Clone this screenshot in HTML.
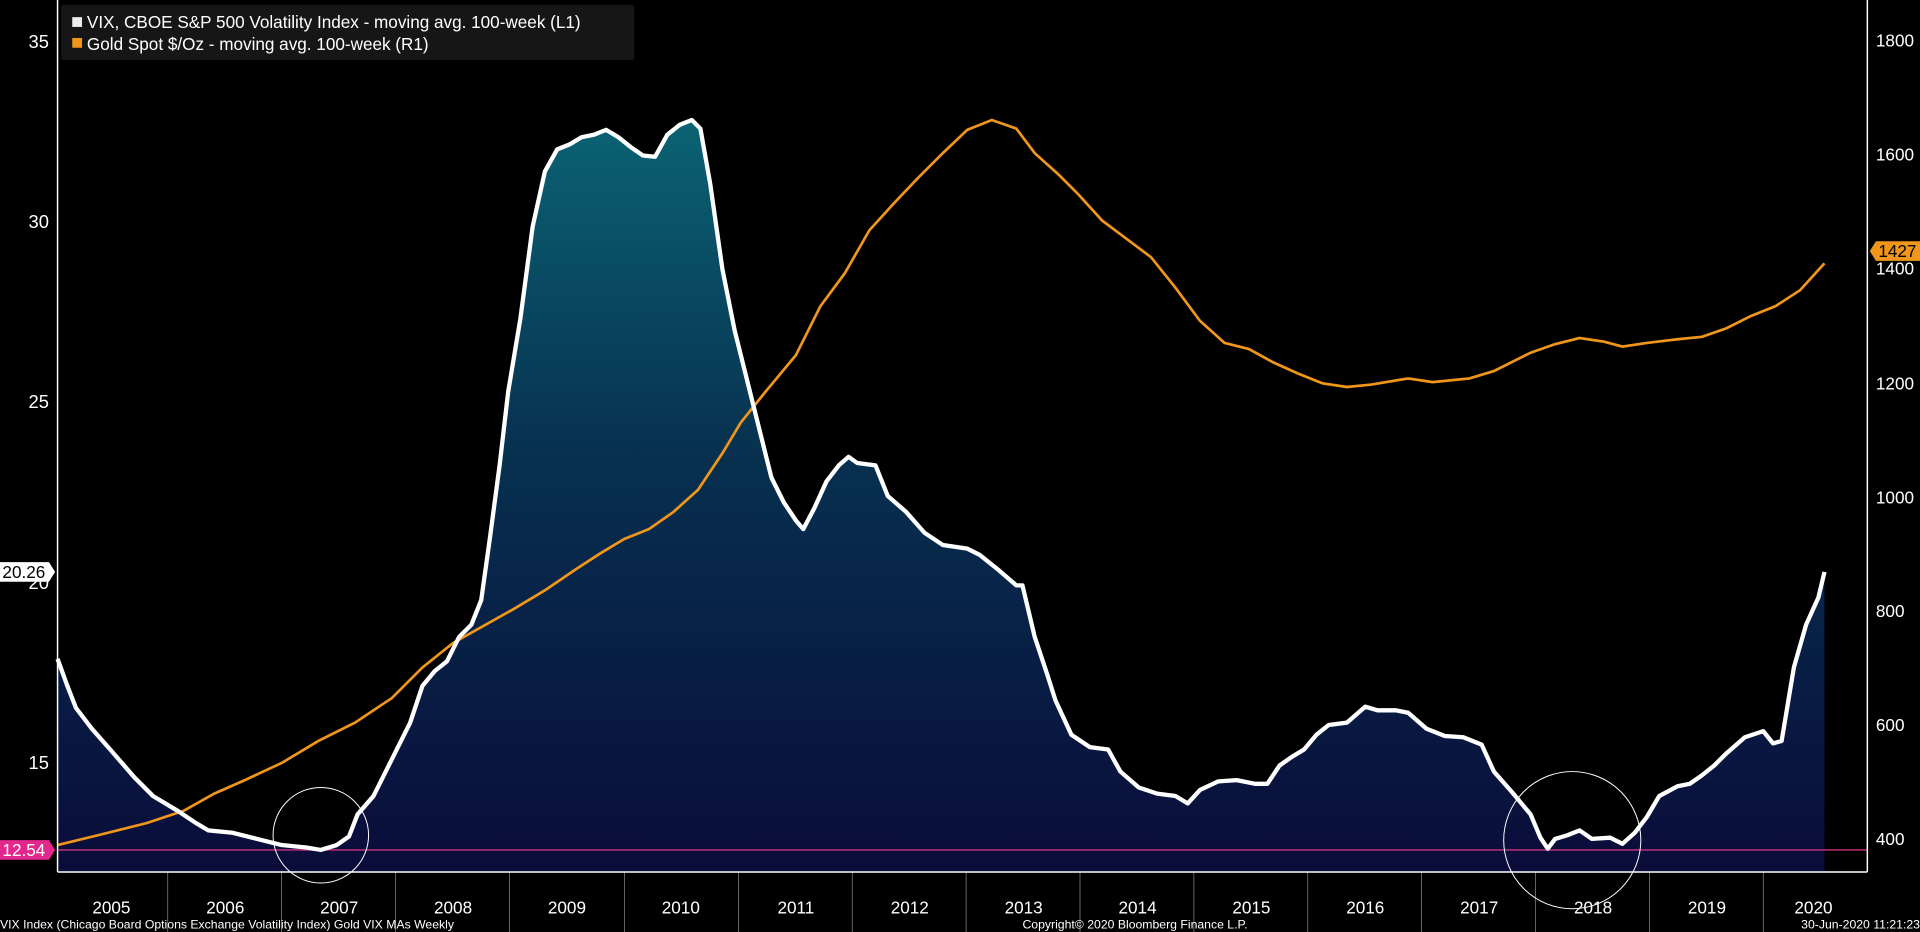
<!DOCTYPE html>
<html><head><meta charset="utf-8"><style>
html,body{margin:0;padding:0;background:#000;overflow:hidden}
svg{display:block}
text{font-family:"Liberation Sans",sans-serif;fill:#fff}
</style></head><body>
<svg width="1920" height="932" viewBox="0 0 1568 761" preserveAspectRatio="none" xmlns="http://www.w3.org/2000/svg">
<defs>
<linearGradient id="g" gradientUnits="userSpaceOnUse" x1="0" y1="95" x2="0" y2="712">
<stop offset="0" stop-color="#0b6373"/>
<stop offset="0.45" stop-color="#07304f"/>
<stop offset="1" stop-color="#0a0c3a"/>
</linearGradient>
</defs>
<rect width="1568" height="761" fill="#000"/>
<path fill="url(#g)" d="M47,712 L47,538 L55,560 L62,578 L75,595 L90,612 L110,635 L125,650 L145,662 L160,672 L170,678 L190,680 L210,685 L230,690 L250,692 L262,694 L275,690 L285,683 L292,665 L305,650 L320,620 L335,590 L345,560 L355,548 L365,540 L375,520 L385,510 L393,490 L400,440 L408,380 L415,320 L425,260 L435,185 L445,140 L455,122 L465,118 L475,112 L485,110 L495,106 L505,112 L515,120 L525,127 L535,128 L545,110 L555,102 L565,98 L572,105 L580,150 L590,220 L600,270 L610,310 L620,350 L630,390 L640,410 L650,425 L656,432 L665,415 L675,393 L685,380 L693,373 L700,378 L715,380 L725,405 L740,418 L755,435 L770,445 L790,448 L800,453 L815,465 L830,478 L835,478 L845,520 L855,550 L862,572 L875,600 L890,610 L905,612 L915,630 L930,643 L945,648 L960,650 L970,656 L980,645 L995,638 L1010,637 L1025,640 L1035,640 L1045,625 L1055,618 L1065,612 L1075,600 L1085,592 L1100,590 L1115,577 L1125,580 L1140,580 L1150,582 L1165,595 L1180,601 L1195,602 L1210,608 L1220,630 L1235,647 L1250,665 L1258,684 L1264,693 L1270,685 L1280,682 L1290,678 L1300,685 L1315,684 L1325,689 L1335,680 L1345,667 L1355,650 L1370,642 L1380,640 L1390,633 L1400,625 L1410,615 L1425,602 L1440,597 L1448,607 L1455,605 L1465,545 L1475,510 L1485,488 L1490,467 L1490,712 Z"/>
<g stroke="#888" stroke-width="0.6">
<line x1="137" y1="712" x2="137" y2="761"/><line x1="230" y1="712" x2="230" y2="761"/><line x1="323" y1="712" x2="323" y2="761"/><line x1="416" y1="712" x2="416" y2="761"/><line x1="510" y1="712" x2="510" y2="761"/><line x1="603" y1="712" x2="603" y2="761"/><line x1="696" y1="712" x2="696" y2="761"/><line x1="789" y1="712" x2="789" y2="761"/><line x1="882" y1="712" x2="882" y2="761"/><line x1="975" y1="712" x2="975" y2="761"/><line x1="1068" y1="712" x2="1068" y2="761"/><line x1="1161" y1="712" x2="1161" y2="761"/><line x1="1254" y1="712" x2="1254" y2="761"/><line x1="1347" y1="712" x2="1347" y2="761"/><line x1="1440" y1="712" x2="1440" y2="761"/>
</g>
<line x1="47" y1="694" x2="1525" y2="694" stroke="#d0307f" stroke-width="1.2"/>
<polyline fill="none" stroke="#f0961a" stroke-width="2.2" points="47,690 80,682 120,672 150,662 175,648 200,637 230,623 260,605 290,590 320,570 345,545 370,525 395,511 420,497 445,482 470,465 490,452 510,440 530,432 550,418 570,400 590,370 605,345 625,320 650,290 670,250 690,223 710,188 730,166 750,145 770,125 790,106 810,98 830,105 845,125 865,143 880,158 900,180 920,195 940,210 960,235 980,262 1000,280 1020,285 1040,296 1060,305 1080,313 1100,316 1120,314 1150,309 1170,312 1200,309 1220,303 1250,288 1270,281 1290,276 1310,279 1325,283 1345,280 1370,277 1390,275 1410,268 1430,258 1450,250 1470,237 1490,215"/>
<polyline fill="none" stroke="#fff" stroke-width="3.5" stroke-linejoin="round" points="47,538 55,560 62,578 75,595 90,612 110,635 125,650 145,662 160,672 170,678 190,680 210,685 230,690 250,692 262,694 275,690 285,683 292,665 305,650 320,620 335,590 345,560 355,548 365,540 375,520 385,510 393,490 400,440 408,380 415,320 425,260 435,185 445,140 455,122 465,118 475,112 485,110 495,106 505,112 515,120 525,127 535,128 545,110 555,102 565,98 572,105 580,150 590,220 600,270 610,310 620,350 630,390 640,410 650,425 656,432 665,415 675,393 685,380 693,373 700,378 715,380 725,405 740,418 755,435 770,445 790,448 800,453 815,465 830,478 835,478 845,520 855,550 862,572 875,600 890,610 905,612 915,630 930,643 945,648 960,650 970,656 980,645 995,638 1010,637 1025,640 1035,640 1045,625 1055,618 1065,612 1075,600 1085,592 1100,590 1115,577 1125,580 1140,580 1150,582 1165,595 1180,601 1195,602 1210,608 1220,630 1235,647 1250,665 1258,684 1264,693 1270,685 1280,682 1290,678 1300,685 1315,684 1325,689 1335,680 1345,667 1355,650 1370,642 1380,640 1390,633 1400,625 1410,615 1425,602 1440,597 1448,607 1455,605 1465,545 1475,510 1485,488 1490,467"/>
<circle cx="262" cy="682" r="39" fill="none" stroke="#fff" stroke-width="0.8"/>
<circle cx="1284" cy="686" r="56" fill="none" stroke="#fff" stroke-width="0.8"/>
<line x1="47" y1="0" x2="47" y2="712" stroke="#fff" stroke-width="1.2"/>
<line x1="1525" y1="0" x2="1525" y2="712" stroke="#fff" stroke-width="1.2"/>
<line x1="47" y1="712" x2="1525" y2="712" stroke="#fff" stroke-width="1.2"/>
<g font-size="15" text-anchor="end">
<text x="40" y="39">35</text><text x="40" y="186">30</text><text x="40" y="333">25</text><text x="40" y="481">20</text><text x="40" y="628">15</text>
</g>
<g font-size="14" text-anchor="start">
<text x="1532" y="38">1800</text><text x="1532" y="131">1600</text><text x="1532" y="224">1400</text><text x="1532" y="318">1200</text><text x="1532" y="411">1000</text><text x="1532" y="504">800</text><text x="1532" y="597">600</text><text x="1532" y="690">400</text>
</g>
<g font-size="14" text-anchor="middle">
<text x="91" y="746">2005</text><text x="184" y="746">2006</text><text x="277" y="746">2007</text><text x="370" y="746">2008</text><text x="463" y="746">2009</text><text x="556" y="746">2010</text><text x="650" y="746">2011</text><text x="743" y="746">2012</text><text x="836" y="746">2013</text><text x="929" y="746">2014</text><text x="1022" y="746">2015</text><text x="1115" y="746">2016</text><text x="1208" y="746">2017</text><text x="1301" y="746">2018</text><text x="1394" y="746">2019</text><text x="1481" y="746">2020</text>
</g>
<g font-size="10">
<text x="0" y="758">VIX Index (Chicago Board Options Exchange Volatility Index) Gold VIX MAs  Weekly</text>
<text x="835" y="758">Copyright© 2020 Bloomberg Finance L.P.</text>
<text x="1568" y="758" text-anchor="end">30-Jun-2020 11:21:23</text>
</g>
<path d="M0,459 L40,459 L45,467 L40,475 L0,475 Z" fill="#fff"/>
<text x="2" y="472" font-size="14" style="fill:#000">20.26</text>
<path d="M0,686 L40,686 L45,694 L40,702 L0,702 Z" fill="#e2288c"/>
<text x="2" y="699" font-size="14">12.54</text>
<path d="M1532,197 L1568,197 L1568,213 L1532,213 L1527,205 Z" fill="#f0961a"/>
<text x="1534" y="210" font-size="14" style="fill:#000">1427</text>
<rect x="50" y="4" width="468" height="45" rx="2" fill="#161616"/>
<rect x="59" y="14" width="8" height="8" fill="#eee"/>
<rect x="59" y="31" width="8" height="8" fill="#f0961a"/>
<text x="71" y="23" font-size="14">VIX, CBOE S&amp;P 500 Volatility Index - moving avg. 100-week (L1)</text>
<text x="71" y="41" font-size="14">Gold Spot $/Oz - moving avg. 100-week (R1)</text>
</svg>
</body></html>
